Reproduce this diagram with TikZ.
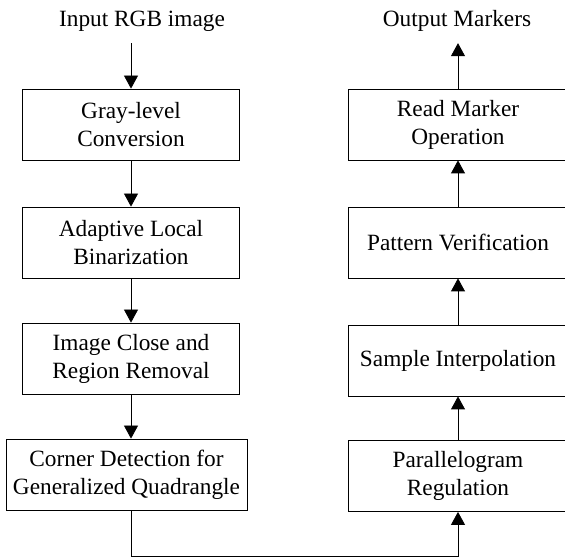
\documentclass[tikz,border=0pt]{standalone}
\usepackage{fontspec}
\setmainfont{Liberation Serif}
\usetikzlibrary{arrows.meta}
\begin{document}
\begin{tikzpicture}[x=1pt,y=1pt,
  every node/.style={font=\fontsize{23.3}{28}\selectfont},
  box/.style={draw=black,line width=0.8pt,align=center,minimum height=71pt,inner sep=0pt},
  lbl/.style={anchor=base,inner xsep=0pt,inner ysep=11pt},
  conn/.style={line width=0.8pt,-{Triangle[width=14pt,length=13pt]}}]
\useasboundingbox (0,0) rectangle (565,557);
% left column
\node[lbl] (in) at (142,530) {Input RGB image};
\node[box,minimum width=217pt] (gray) at (131,432.5) {Gray-level\\Conversion};
\node[box,minimum width=217pt] (bin) at (131,314.5) {Adaptive Local\\Binarization};
\node[box,minimum width=217pt] (close) at (131,198.5) {Image Close and\\Region Removal};
\node[box,minimum width=241pt] (corner) at (126.5,82.5) {Corner Detection for\\Generalized Quadrangle};
% right column
\node[lbl] (out) at (457,530) {Output Markers};
\node[box,minimum width=220pt] (read) at (458,432.5) {Read Marker\\Operation};
\node[box,minimum width=220pt] (pat) at (458,314.5) {Pattern Verification};
\node[box,minimum width=220pt] (samp) at (458,196.5) {Sample Interpolation};
\node[box,minimum width=220pt] (para) at (458,81) {Parallelogram\\Regulation};
% connectors
\draw[conn] (in.south -| gray.north) -- (gray.north);
\draw[conn] (gray.south) -- (bin.north);
\draw[conn] (bin.south) -- (close.north);
\draw[conn] (close.south) -- (corner.north -| close.south);
\draw[conn] (corner.south -| close.south) -- ++(0,-45.5) -| (para.south);
\draw[conn] (para.north) -- (samp.south);
\draw[conn] (samp.north) -- (pat.south);
\draw[conn] (pat.north) -- (read.south);
\draw[conn] (read.north) -- (out.south -| read.north);
\end{tikzpicture}
\end{document}
